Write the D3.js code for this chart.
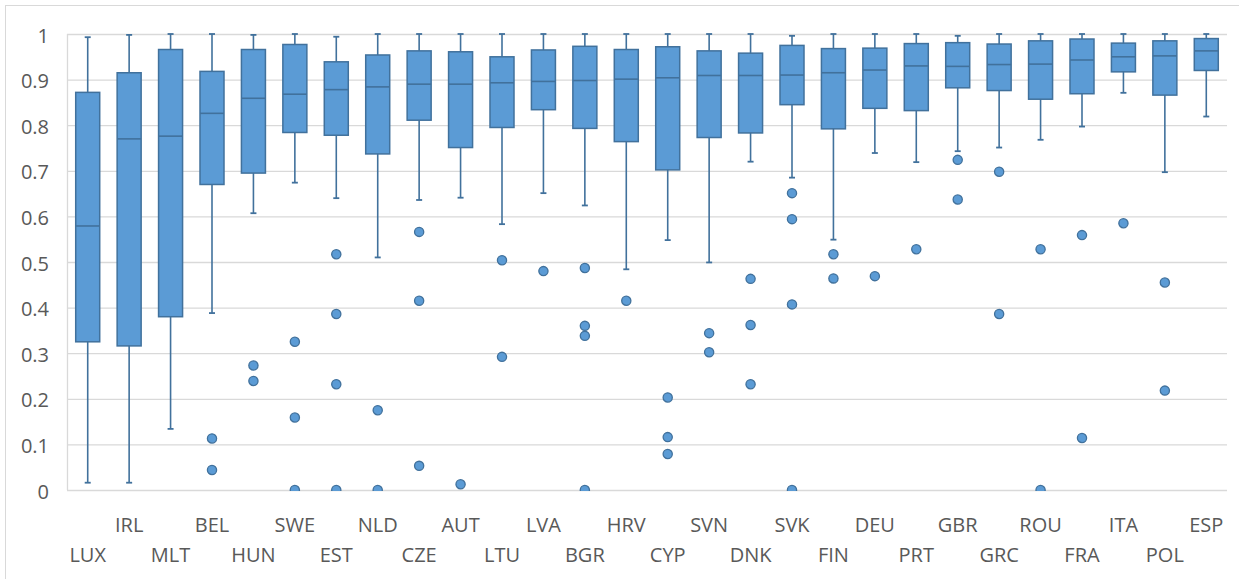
<!DOCTYPE html>
<html>
<head>
<meta charset="utf-8">
<script src="https://cdn.jsdelivr.net/npm/d3@7"></script>
<style>
  body { margin: 0; background: #fff; }
  .tick text { font-family: "Open Sans", sans-serif; fill: #595959; }
  .catLabel { font-family: "Open Sans", sans-serif; fill: #595959; font-size: 20px; }
</style>
</head>
<body>
<div id="chartdiv"></div>
<script>
//box plots per country

var countries = ["LUX","IRL","MLT","BEL","HUN","SWE","EST","NLD","CZE","AUT","LTU","LVA","BGR","HRV",
                 "CYP","SVN","DNK","SVK","FIN","DEU","PRT","GBR","GRC","ROU","FRA","ITA","POL","ESP"];

//whisker ends, quartiles and medians
var whiskerLow  = [0.016,0.016,0.134,0.388,0.607,0.674,0.640,0.510,0.636,0.641,0.583,0.651,0.624,0.484,
                   0.548,0.499,0.720,0.685,0.549,0.739,0.719,0.743,0.751,0.768,0.797,0.871,0.697,0.819];
var q1          = [0.325,0.316,0.380,0.670,0.695,0.784,0.778,0.737,0.811,0.751,0.795,0.834,0.793,0.764,
                   0.702,0.773,0.783,0.845,0.792,0.837,0.832,0.882,0.876,0.857,0.869,0.917,0.866,0.920];
var median      = [0.579,0.770,0.776,0.826,0.859,0.868,0.878,0.884,0.890,0.890,0.893,0.896,0.898,0.901,
                   0.904,0.909,0.909,0.910,0.915,0.921,0.930,0.929,0.933,0.934,0.943,0.950,0.952,0.963];
var q3          = [0.872,0.915,0.966,0.918,0.966,0.977,0.939,0.954,0.963,0.961,0.950,0.965,0.973,0.966,
                   0.972,0.963,0.958,0.975,0.968,0.969,0.979,0.981,0.978,0.985,0.989,0.980,0.985,0.990];
var whiskerHigh = [0.993,0.998,1.000,1.000,0.998,1.000,0.994,1.000,1.000,1.000,1.000,1.000,1.000,1.000,
                   1.000,1.000,1.000,0.996,1.000,1.000,1.000,0.996,1.000,1.000,1.000,1.000,1.000,1.000];
//outlier points per country
var outliers = [[],[],[],[0.113,0.044],[0.273,0.239],[0.325,0.159,0],[0.517,0.386,0.232,0],[0.175,0],
                [0.566,0.415,0.053],[0.0125],[0.504,0.292],[0.480],[0.487,0.360,0.338,0],[0.415],
                [0.203,0.116,0.079],[0.344,0.302],[0.463,0.362,0.232],[0.651,0.594,0.407,0],
                [0.517,0.464],[0.469],[0.528],[0.724,0.637],[0.698,0.386],[0.528,0],[0.559,0.114],
                [0.585],[0.455,0.218],[]];
var yTicks = [0,0.1,0.2,0.3,0.4,0.5,0.6,0.7,0.8,0.9,1];

window.onload = setChart();

function setChart(){
    var width = 1239, height = 579;
    var margin = {left: 67, right: 12, top: 34, bottom: 89};

    var svg = d3.select("#chartdiv")
        .append("svg")
        .attr("width", width)
        .attr("height", height);

    //outer frame of the chart
    svg.append("rect")
        .attr("x", 5.5)
        .attr("y", 5.5)
        .attr("width", width)
        .attr("height", height)
        .style("fill", "none")
        .style("stroke", "#d9d9d9");

    var x = d3.scaleBand()
        .domain(countries)
        .range([margin.left, width - margin.right]);

    var y = d3.scaleLinear()
        .domain([0, 1])
        .range([height - margin.bottom, margin.top]);

    //gridlines and y labels
    var yAxis = svg.append("g")
        .attr("transform", "translate(" + margin.left + ",0)")
        .call(d3.axisLeft(y)
            .tickValues(yTicks)
            .tickSize(-(width - margin.left - margin.right))
            .tickPadding(18)
            .tickFormat(function(d){ return d3.format("")(+d.toFixed(1)); }));
    yAxis.select(".domain").remove();
    yAxis.selectAll(".tick line").style("stroke", "#d9d9d9").style("stroke-width", 1.3);
    yAxis.selectAll(".tick text").style("font-size", "20px").attr("dy", "0.4em");

    //left axis line
    svg.append("line")
        .attr("x1", margin.left + 0.5).attr("x2", margin.left + 0.5)
        .attr("y1", y(1)).attr("y2", y(0))
        .style("stroke", "#d9d9d9").style("stroke-width", 1.3);

    svg.append("clipPath").attr("id", "plotClip")
        .append("rect")
        .attr("x", 0).attr("y", 0)
        .attr("width", width).attr("height", y(0) + 1);

    var stroke = "#41719c", fill = "#5b9bd5";
    var boxW = 24, capW = 6;
    var data = countries.map(function(c, i){
        return {name: c, lo: whiskerLow[i], q1: q1[i], med: median[i], q3: q3[i], hi: whiskerHigh[i], out: outliers[i]};
    });

    var boxes = svg.append("g")
        .attr("clip-path", "url(#plotClip)")
        .selectAll(".box")
        .data(data)
        .enter()
        .append("g")
        .attr("class", "box")
        .attr("transform", function(d){ return "translate(" + (x(d.name) + x.bandwidth() / 2) + ",0)"; });

    //whisker lines
    boxes.append("line")
        .attr("x1", 0).attr("x2", 0)
        .attr("y1", function(d){ return y(d.hi); })
        .attr("y2", function(d){ return y(d.lo); })
        .style("stroke", stroke).style("stroke-width", 1.6);

    //whisker caps
    boxes.selectAll(".cap")
        .data(function(d){ return [d.lo, d.hi]; })
        .enter()
        .append("line")
        .attr("class", "cap")
        .attr("x1", -capW / 2).attr("x2", capW / 2)
        .attr("y1", function(v){ return y(v); })
        .attr("y2", function(v){ return y(v); })
        .style("stroke", stroke).style("stroke-width", 1.8);

    //box itself
    boxes.append("rect")
        .attr("x", -boxW / 2)
        .attr("width", boxW)
        .attr("y", function(d){ return y(d.q3); })
        .attr("height", function(d){ return y(d.q1) - y(d.q3); })
        .style("fill", fill)
        .style("stroke", stroke)
        .style("stroke-width", 1.5);

    //median line
    boxes.append("line")
        .attr("x1", -boxW / 2).attr("x2", boxW / 2)
        .attr("y1", function(d){ return y(d.med); })
        .attr("y2", function(d){ return y(d.med); })
        .style("stroke", stroke).style("stroke-width", 1.6);

    //outlier dots
    boxes.selectAll(".outlier")
        .data(function(d){ return d.out; })
        .enter()
        .append("circle")
        .attr("class", "outlier")
        .attr("cx", 0)
        .attr("cy", function(v){ return y(v); })
        .attr("r", 4.6)
        .style("fill", fill)
        .style("stroke", stroke)
        .style("stroke-width", 1.3);

    //staggered category labels
    svg.selectAll(".catLabel")
        .data(countries)
        .enter()
        .append("text")
        .attr("class", "catLabel")
        .attr("text-anchor", "middle")
        .attr("x", function(d){ return x(d) + x.bandwidth() / 2; })
        .attr("y", function(d, i){ return i % 2 == 0 ? 562 : 532; })
        .text(function(d){ return d; });
};
</script>
</body>
</html>
